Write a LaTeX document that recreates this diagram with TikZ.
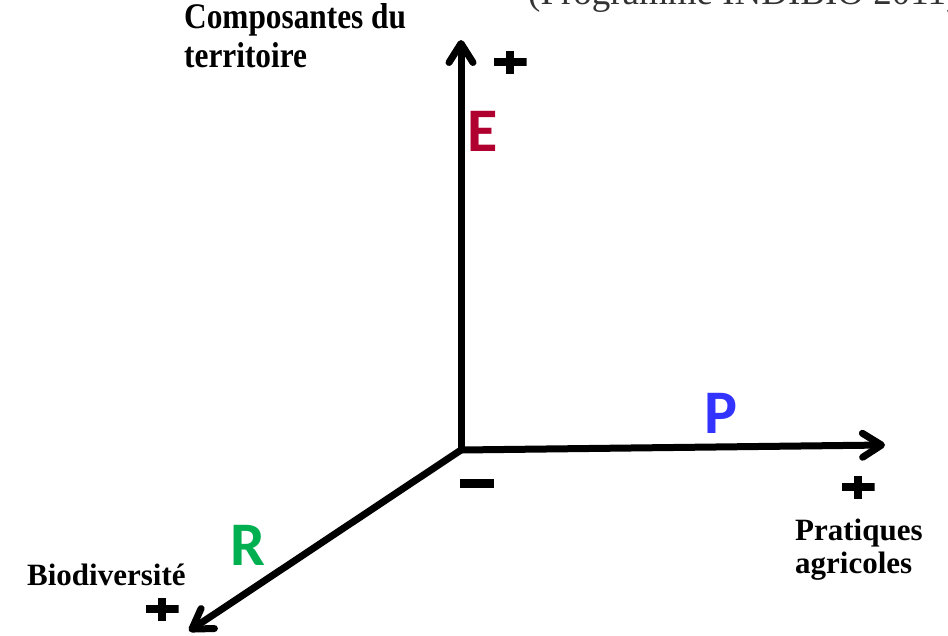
\documentclass[tikz,border=0pt]{standalone}
\usepackage{fontspec}
\setmainfont{Liberation Serif}
\newfontfamily\letterfont{Carlito}
\usetikzlibrary{arrows.meta}
\definecolor{ecol}{RGB}{176,0,48}
\definecolor{pcol}{RGB}{51,51,255}
\definecolor{rcol}{RGB}{0,176,80}
\tikzset{
  axis/.style={line width=7pt, line cap=round, line join=round,
    -{Straight Barb[round,length=19pt,width=24pt]}},
  bigletter/.style={inner sep=0pt, anchor=base west, font=\letterfont\bfseries\fontsize{62}{62}\selectfont},
  plusmark/.style={inner sep=0pt, minimum width=33pt, minimum height=23pt,
    path picture={\fill (path picture bounding box.center) +(-16.5,-4) rectangle +(16.5,4);
                  \fill (path picture bounding box.center) +(-4,-11.5) rectangle +(4,11.5);}},
  minusmark/.style={inner sep=0pt, minimum width=34pt, minimum height=9pt, fill=black},
  axlabel/.style={inner sep=0pt, anchor=base west, align=left, font=\bfseries\fontsize{31}{33}\selectfont},
}
\begin{document}
\begin{tikzpicture}[x=1pt,y=-1pt]
\useasboundingbox (0,0) rectangle (948,635);
\clip (0,0) rectangle (948,635);
% caption (cut off at top)
\node[inner sep=0pt, anchor=base west, text=black!80, font=\fontsize{37}{37}\selectfont] (cap) at (528,4) {(Programme INDIBIO 2011)};
% axes
\coordinate (O) at (461,450);
\coordinate (Etip) at (461,40);
\coordinate (Ptip) at (885,445);
\coordinate (Rtip) at (189,631);
\draw[axis] (O) -- (Etip);
\draw[axis] (O) -- (Ptip);
\draw[axis] (O) -- (Rtip);
% letters
\node[bigletter, text=ecol] (E) at (467,151) {E};
\node[bigletter, text=pcol] (P) at (704,433) {P};
\node[bigletter, text=rcol] (R) at (230,565) {R};
% plus / minus
\node[plusmark] (plusE) at (510,62) {};
\node[plusmark] (plusP) at (858,487) {};
\node[plusmark] (plusR) at (162,609) {};
\node[minusmark] (minus) at (477,483) {};
% labels
\node[inner sep=0pt, anchor=base west, align=left, font=\bfseries\fontsize{36}{39}\selectfont] (lE) at (184,67)
  {\scalebox{0.87}[1]{Composantes du}\\\scalebox{0.87}[1]{territoire}};
\node[axlabel] (lP) at (795,573) {Pratiques\\agricoles};
\node[axlabel] (lR) at (27,585) {Biodiversité};
\end{tikzpicture}
\end{document}
